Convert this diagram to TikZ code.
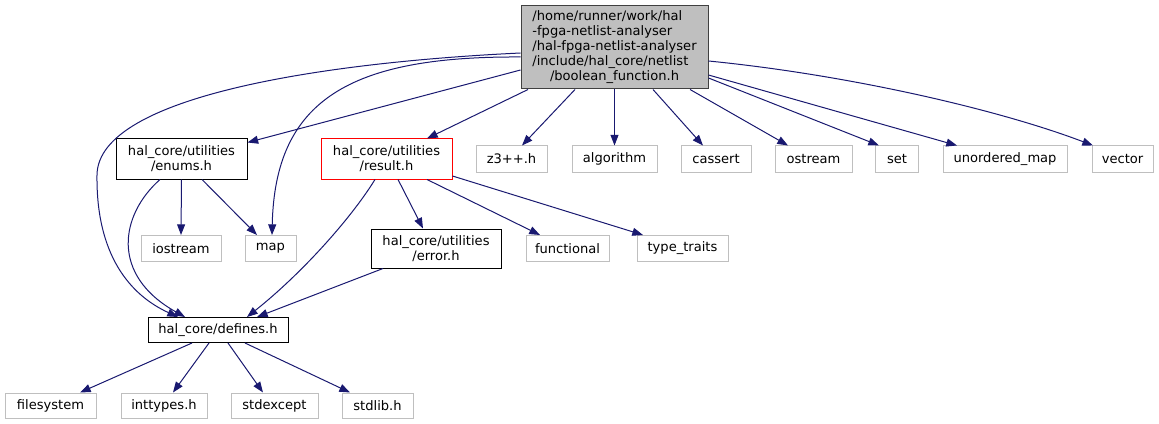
\documentclass[tikz,border=0pt]{standalone}
\usepackage{fontspec}
\setmainfont{DejaVu Sans}
\usetikzlibrary{arrows.meta,calc}
\definecolor{edgeblue}{HTML}{191970}
\definecolor{graybd}{HTML}{BFBFBF}
\definecolor{topbd}{HTML}{404040}
\begin{document}
\begin{tikzpicture}[x=0.75pt,y=-0.75pt,
  every node/.style={font=\fontsize{9.8pt}{11.25pt}\selectfont, inner sep=0pt, align=center},
  nodebox/.style={draw=black, line width=0.75pt, fill=white},
  extbox/.style={draw=graybd, line width=0.75pt, fill=white},
  redbox/.style={draw=red, line width=0.75pt, fill=white},
  topbox/.style={draw=topbd, line width=0.75pt, fill=graybd},
  sz/.style 2 args={minimum width={#1*0.75pt}, minimum height={#2*0.75pt}},
  dep/.style={draw=edgeblue, line width=0.75pt, -{Triangle[length=8pt,width=6pt]}}
]
\useasboundingbox (0,0) rectangle (1159,424);
% top node
\node[topbox, sz={187}{83}] (top) at (614.5,47.5)
  {\begin{tabular}{@{}l@{}}/home/runner/work/hal\\-fpga-netlist-analyser\\/hal-fpga-netlist-analyser\\/include/hal\_core/netlist\\\multicolumn{1}{@{}c@{}}{/boolean\_function.h}\end{tabular}};
% row 2
\node[nodebox, sz={131}{40}] (enums) at (181.5,159) {hal\_core/utilities\\/enums.h};
\node[redbox, sz={131}{40}] (result) at (386.5,159) {hal\_core/utilities\\/result.h};
\node[extbox, sz={71}{26}] (z3) at (511.5,159) {z3++.h};
\node[extbox, sz={85}{26}] (algorithm) at (614.5,159) {algorithm};
\node[extbox, sz={70}{26}] (cassert) at (716,159) {cassert};
\node[extbox, sz={77}{26}] (ostream) at (813.5,159) {ostream};
\node[extbox, sz={43}{26}] (set) at (897,159) {set};
\node[extbox, sz={124}{26}] (umap) at (1005,159) {unordered\_map};
\node[extbox, sz={61}{26}] (vector) at (1122.5,159) {vector};
% row 3
\node[extbox, sz={80}{26}] (iostream) at (181,248.5) {iostream};
\node[extbox, sz={51}{26}] (map) at (270.5,248.5) {map};
\node[nodebox, sz={130}{39}] (error) at (436,248.5) {hal\_core/utilities\\/error.h};
\node[extbox, sz={83}{26}] (functional) at (567.5,248.5) {functional};
\node[extbox, sz={91}{26}] (typetraits) at (682.5,248.5) {type\_traits};
% row 4
\node[nodebox, sz={140}{25}] (defines) at (218,330) {hal\_core/defines.h};
% row 5
\node[extbox, sz={91}{25}] (filesystem) at (50.5,405.5) {filesystem};
\node[extbox, sz={86}{25}] (inttypes) at (164,405.5) {inttypes.h};
\node[extbox, sz={87}{25}] (stdexcept) at (274.5,405.5) {stdexcept};
\node[extbox, sz={71}{25}] (stdlib) at (377.5,405.5) {stdlib.h};
% edges from top
\draw[dep] ($(top.west)+(0,5.5)$) .. controls (330,62) and (98,95) .. (97,175)
  .. controls (96,255) and (130,295) .. ($(defines.north)+(-40,0)$);
\draw[dep] ($(top.west)+(0,22.5)$) -- ($(enums.north east)+(0,4)$);
\draw[dep] ($(top.west)+(0,9.5)$) .. controls (350,56) and (275,100) .. ($(map.north)+(1.5,0)$);
\draw[dep] ($(top.south)+(-86.5,0)$) -- ($(result.north)+(40.5,0)$);
\draw[dep] ($(top.south)+(-39.5,0)$) -- ($(z3.north)+(10.5,0)$);
\draw[dep] (top.south) -- (algorithm.north);
\draw[dep] ($(top.south)+(38.5,0)$) -- ($(cassert.north)+(-13,0)$);
\draw[dep] ($(top.south)+(75.5,0)$) -- ($(ostream.north)+(-25.5,0)$);
\draw[dep] ($(top.east)+(0,30.5)$) -- ($(set.north)+(-18,0)$);
\draw[dep] ($(top.east)+(0,27.5)$) -- ($(umap.north)+(-48,0)$);
\draw[dep] ($(top.east)+(0,13.5)$) .. controls (850,75) and (1000,110) .. ($(vector.north)+(-29.5,0)$);
% edges from enums
\draw[dep] ($(enums.south)+(-21.5,0)$) .. controls (120,215) and (110,275) .. ($(defines.north)+(-33,0)$);
\draw[dep] (enums.south) -- (iostream.north);
\draw[dep] ($(enums.south)+(20.5,0)$) -- ($(map.north)+(-13.5,0)$);
% edges from result
\draw[dep] ($(result.south)+(-11.5,0)$) .. controls (350,220) and (300,275) .. ($(defines.north)+(29,0)$);
\draw[dep] ($(result.south)+(11.5,0)$) -- ($(error.north)+(-13,0)$);
\draw[dep] ($(result.south)+(40.5,0)$) -- ($(functional.north)+(-27.5,0)$);
\draw[dep] ($(result.east)+(0,17)$) -- ($(typetraits.north)+(-39.5,0)$);
% edge from error
\draw[dep] ($(error.south)+(-53,0)$) -- ($(defines.north)+(39,0)$);
% edges from defines
\draw[dep] ($(defines.south)+(-26,0)$) -- ($(filesystem.north)+(29.5,0)$);
\draw[dep] ($(defines.south)+(-9,0)$) -- ($(inttypes.north)+(9,0)$);
\draw[dep] ($(defines.south)+(10,0)$) -- ($(stdexcept.north)+(-11.5,0)$);
\draw[dep] ($(defines.south)+(27,0)$) -- ($(stdlib.north)+(-27.5,0)$);
\end{tikzpicture}
\end{document}
